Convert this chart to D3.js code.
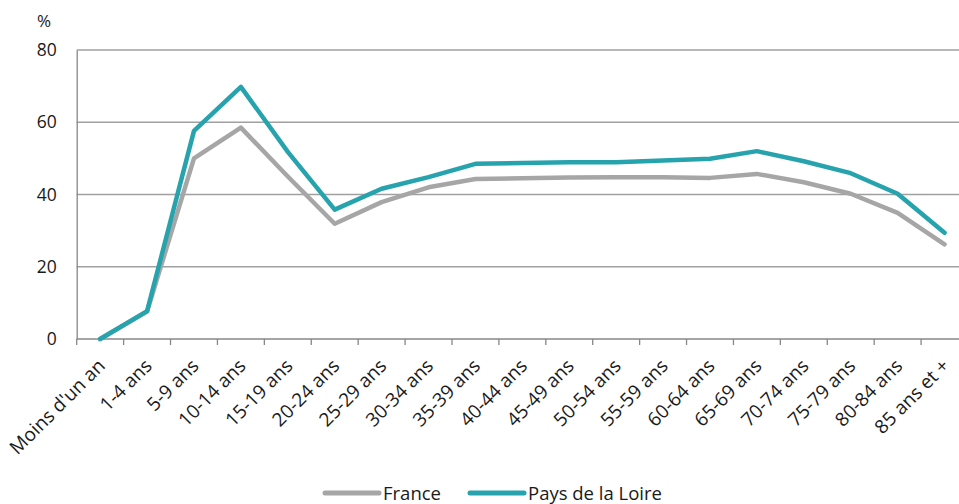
<!DOCTYPE html>
<html lang="fr">
<head>
  <meta charset="UTF-8">
  <title>Taux par âge</title>
  <script src="https://cdn.jsdelivr.net/npm/d3@7/dist/d3.min.js"></script>
  <style>
    body { margin: 0; background: #fff; }
    text { font-family: "Open Sans", "Noto Sans", sans-serif; fill: #1a1a1a; }
  </style>
</head>
<body>
  <svg width="959" height="504" id="main"></svg>
<script>
  // catégories d'âge
  const ages = ["Moins d'un an", "1-4 ans", "5-9 ans", "10-14 ans", "15-19 ans", "20-24 ans",
    "25-29 ans", "30-34 ans", "35-39 ans", "40-44 ans", "45-49 ans", "50-54 ans", "55-59 ans",
    "60-64 ans", "65-69 ans", "70-74 ans", "75-79 ans", "80-84 ans", "85 ans et +"];
  const france = [0, 7.6, 50, 58.5, 45, 31.9, 37.9, 42, 44.3, 44.5, 44.7, 44.8, 44.8, 44.6,
    45.7, 43.4, 40.2, 34.9, 26.2];
  const loire = [0, 7.7, 57.6, 69.8, 51.8, 35.8, 41.6, 44.8, 48.5, 48.7, 48.9, 48.9, 49.4, 49.9,
    52, 49.2, 45.9, 40.2, 29.4];
  const yTicks = [0, 20, 40, 60, 80];
  const series = [
    { name: 'France', values: france, color: '#a6a6a6' },
    { name: 'Pays de la Loire', values: loire, color: '#27a3ad' },
  ];

  const svg = d3.select('#main');
  const m = { left: 76.7, right: 968, top: 50, bottom: 339 };

  const x = d3.scaleBand().domain(ages).range([m.left, m.right]);
  const y = d3.scaleLinear().domain([0, 80]).range([m.bottom, m.top]);

  // grille horizontale
  svg.append('g')
    .selectAll('line')
    .data(yTicks.filter(d => d > 0))
    .enter()
    .append('line')
    .attr('x1', m.left).attr('x2', 959)
    .attr('y1', d => y(d)).attr('y2', d => y(d))
    .attr('stroke', '#a0a0a0').attr('stroke-width', 1.3);

  // axe y
  const yAxis = svg.append('g')
    .attr('transform', `translate(${m.left},0)`)
    .call(d3.axisLeft(y).tickValues(yTicks).tickSize(0).tickPadding(20));
  yAxis.select('.domain').attr('stroke', '#878787').attr('stroke-width', 1.3);
  yAxis.selectAll('text').attr('font-size', 17.5).style('font-family', '"Open Sans", sans-serif');

  svg.append('text')
    .attr('x', 37).attr('y', 27)
    .attr('font-size', 17)
    .text('%');

  // axe x
  const xAxis = svg.append('g')
    .attr('transform', `translate(0,${m.bottom})`);
  xAxis.append('line')
    .attr('x1', m.left).attr('x2', 959)
    .attr('stroke', '#878787').attr('stroke-width', 1.3);
  // petites graduations entre catégories
  xAxis.selectAll('.sep')
    .data(ages)
    .enter()
    .append('line')
    .attr('class', 'sep')
    .attr('x1', d => x(d)).attr('x2', d => x(d))
    .attr('y1', 0).attr('y2', 6)
    .attr('stroke', '#878787').attr('stroke-width', 1.3);
  xAxis.selectAll('.lab')
    .data(ages)
    .enter()
    .append('text')
    .attr('class', 'lab')
    .attr('text-anchor', 'end')
    .attr('font-size', 19)
    .attr('transform', d => `translate(${x(d) + x.bandwidth() / 2 + 6},${28}) rotate(-45)`)
    .text(d => d);

  // courbes
  const line = d3.line()
    .x((d, i) => x(ages[i]) + x.bandwidth() / 2)
    .y(d => y(d));
  svg.append('g')
    .selectAll('path')
    .data(series)
    .enter()
    .append('path')
    .attr('d', d => line(d.values))
    .attr('fill', 'none')
    .attr('stroke', d => d.color)
    .attr('stroke-width', 4.5)
    .attr('stroke-linejoin', 'round')
    .attr('stroke-linecap', 'round');

  // légende
  const legX = [325, 470];
  const leg = svg.append('g')
    .selectAll('g')
    .data(series)
    .enter()
    .append('g')
    .attr('transform', (d, i) => `translate(${legX[i]},493)`);
  leg.append('line')
    .attr('x1', 0).attr('x2', 54)
    .attr('stroke', d => d.color)
    .attr('stroke-width', 5)
    .attr('stroke-linecap', 'round');
  leg.append('text')
    .attr('x', 58).attr('y', 6.5)
    .attr('font-size', 18.5)
    .text(d => d.name);
</script>
</body>
</html>
